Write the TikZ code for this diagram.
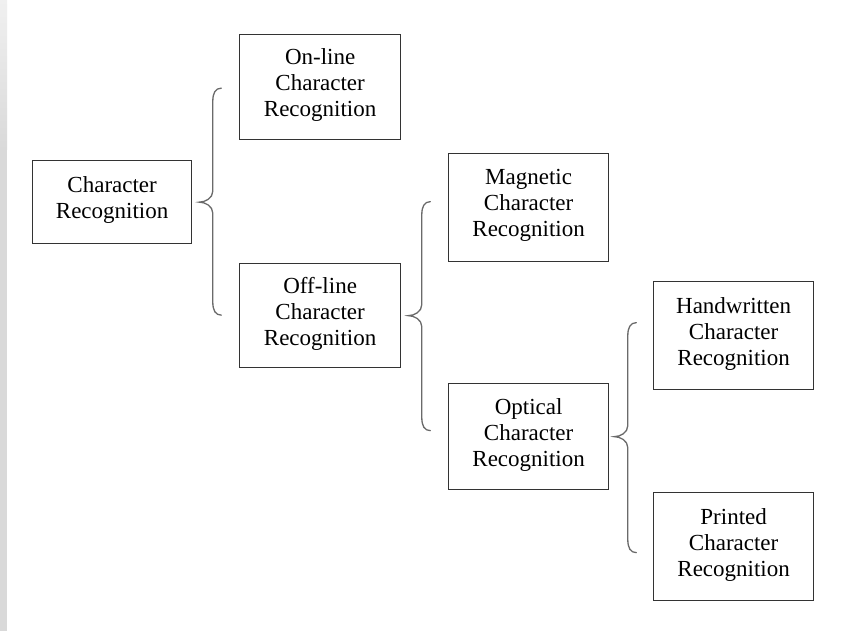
\documentclass[tikz,border=0pt]{standalone}
\usepackage{fontspec}
\setmainfont{Liberation Serif}
\usetikzlibrary{positioning}

\definecolor{boxline}{HTML}{333333}
\definecolor{braceline}{HTML}{6A6A6A}
\definecolor{edgegray}{HTML}{D9D9D9}
\definecolor{edgelight}{HTML}{F0F0F0}

\tikzset{
  catbox/.style={draw=boxline, line width=1.3pt, inner sep=0pt, anchor=north west,
    align=center, font=\fontsize{23}{26}\selectfont, text depth=9pt},
  bracestyle/.style={draw=braceline, line width=1.3pt, line cap=round},
  % curly brace opening to the right; origin = tip, #1 = reach upward, #2 = reach downward
  pics/treebrace/.style n args={2}{code={
    \draw[bracestyle]
      (22,-#1) .. controls (16,-#1) and (13.5,-#1+5) .. (13.5,-#1+13)
      -- (13.5,-11) .. controls (13.5,-4) and (6,0) .. (0,0)
      .. controls (6,0) and (13.5,4) .. (13.5,11)
      -- (13.5,#2-13) .. controls (13.5,#2-5) and (16,#2) .. (22,#2);
  }}
}

\begin{document}
\begin{tikzpicture}[x=1pt, y=-1pt]
  \useasboundingbox (0,0) rectangle (857,631);
  \fill[white] (0,0) rectangle (857,631);

  % page edge strip
  \fill[edgegray] (0,150) rectangle (7,631);
  \shade[top color=edgelight, bottom color=edgegray] (0,0) rectangle (7,150);

  % category boxes
  \node[catbox, minimum width=159pt, minimum height=83pt]  (root)    at (32,160)  {Character\\Recognition};
  \node[catbox, minimum width=161pt, minimum height=105pt] (online)  at (239,34)  {On-line\\Character\\Recognition};
  \node[catbox, minimum width=161pt, minimum height=104pt] (offline) at (239,263) {Off-line\\Character\\Recognition};
  \node[catbox, minimum width=160pt, minimum height=108pt] (magnet)  at (448,153) {Magnetic\\Character\\Recognition};
  \node[catbox, minimum width=160pt, minimum height=106pt] (optical) at (448,383) {Optical\\Character\\Recognition};
  \node[catbox, minimum width=160pt, minimum height=108pt] (hand)    at (653,281) {Handwritten\\Character\\Recognition};
  \node[catbox, minimum width=160pt, minimum height=108pt] (printed) at (653,492) {Printed\\Character\\Recognition};

  % braces joining each box to its subdivisions
  \coordinate (tipA) at ([xshift=7pt]root.east);
  \coordinate (tipB) at ([xshift=7pt]offline.east);
  \coordinate (tipC) at ([xshift=5pt]optical.east);
  \pic at (tipA) {treebrace={114}{113}};
  \pic at (tipB) {treebrace={114}{115}};
  \pic at (tipC) {treebrace={114}{116}};
\end{tikzpicture}
\end{document}
